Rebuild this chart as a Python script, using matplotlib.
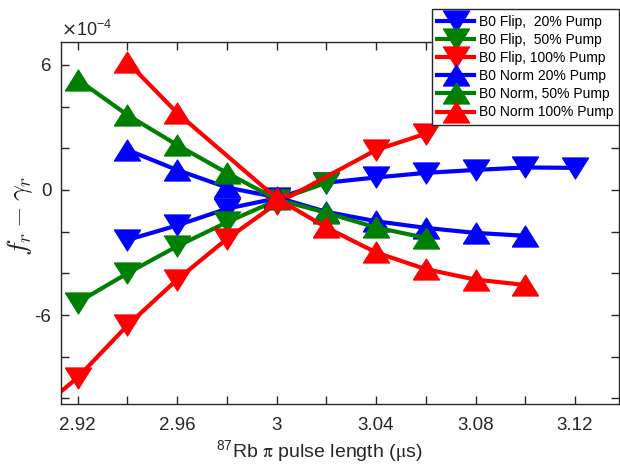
import matplotlib
matplotlib.use("Agg")
import matplotlib.pyplot as plt
from matplotlib.ticker import MultipleLocator, FixedLocator

plt.rcParams['font.family'] = ['Liberation Sans', 'DejaVu Sans']
plt.rcParams['axes.unicode_minus'] = False

# Pulse lengths (us) and frequency offsets (x1e-4)
x_flip20 = [2.94, 2.96, 2.98, 3.00, 3.02, 3.04, 3.06, 3.08, 3.10, 3.12]
flip20 = [-2.4, -1.7, -0.9, -0.4, 0.35, 0.6, 0.82, 0.96, 1.08, 1.06]

x_flip50 = [2.92, 2.94, 2.96, 2.98, 3.00, 3.02]
flip50 = [-5.4, -4.0, -2.7, -1.55, -0.5, 0.35]

x_flip100 = [2.90, 2.92, 2.94, 2.96, 2.98, 3.00, 3.04, 3.06]
flip100 = [-11.0, -9.0, -6.5, -4.3, -2.35, -0.65, 1.92, 2.7]

x_norm20 = [2.94, 2.96, 2.98, 3.00, 3.02, 3.04, 3.06, 3.08, 3.10]
norm20 = [1.92, 0.96, 0.12, -0.35, -1.05, -1.5, -1.82, -2.06, -2.2]

x_norm50 = [2.92, 2.94, 2.96, 2.98, 3.00, 3.02, 3.04, 3.06]
norm50 = [5.3, 3.6, 2.16, 0.82, -0.45, -1.1, -1.8, -2.3]

x_norm100 = [2.94, 2.96, 3.00, 3.02, 3.04, 3.06, 3.08, 3.10]
norm100 = [6.14, 3.7, -0.4, -1.8, -3.0, -3.8, -4.3, -4.56]

labels = ['B0 Flip,  20% Pump', 'B0 Flip,  50% Pump', 'B0 Flip, 100% Pump',
          'B0 Norm 20% Pump', 'B0 Norm, 50% Pump', 'B0 Norm 100% Pump']

x_ticks = [2.92, 2.96, 3.00, 3.04, 3.08, 3.12]
x_ticklabels = ['2.92', '2.96', '3', '3.04', '3.08', '3.12']
y_ticks = [6, 0, -6]
y_ticklabels = ['6', '0', '-6']

blue = (0, 0, 1)
green = (0, 0.5, 0)
red = (1, 0, 0)
dark = (0.15, 0.15, 0.15)

# slightly flattened triangles
tri_up = [(-1, -0.8), (1, -0.8), (0, 0.8), (-1, -0.8)]
tri_down = [(-1, 0.8), (1, 0.8), (0, -0.8), (-1, 0.8)]

fig = plt.figure(figsize=(6.2, 4.66), dpi=100)
ax = fig.add_axes([61 / 620, 62 / 466, 558 / 620, 362 / 466])

series = [
    (x_flip20, flip20, blue, tri_down),
    (x_flip50, flip50, green, tri_down),
    (x_flip100, flip100, red, tri_down),
    (x_norm20, norm20, blue, tri_up),
    (x_norm50, norm50, green, tri_up),
    (x_norm100, norm100, red, tri_up),
]
for (xs, ys, c, m), lab in zip(series, labels):
    ax.plot(xs, ys, color=c, marker=m, markersize=19, linewidth=3,
            markeredgecolor=c, markeredgewidth=0.8, label=lab)

ax.set_xlim(2.9133, 3.1377)
ax.set_ylim(-10.27, 7.10)

ax.xaxis.set_major_locator(FixedLocator(x_ticks))
ax.set_xticklabels(x_ticklabels)
ax.xaxis.set_minor_locator(MultipleLocator(0.02))
ax.yaxis.set_major_locator(FixedLocator(y_ticks))
ax.set_yticklabels(y_ticklabels)
ax.yaxis.set_minor_locator(MultipleLocator(2))

ax.tick_params(which='both', direction='in', top=True, right=True,
               color=dark, width=1.0, labelcolor=dark, labelsize=13.5)
ax.tick_params(which='both', length=5.5)
ax.tick_params(axis='x', pad=9)
ax.tick_params(axis='y', pad=7)
for sp in ax.spines.values():
    sp.set_color(dark)
    sp.set_linewidth(1.0)

ax.set_xlabel(r'$^{\mathregular{87}}$Rb $\mathrm{\pi}$ pulse length ($\mathrm{\mu}$s)',
              fontsize=14, color=dark, math_fontfamily='stix')
ax.xaxis.set_label_coords(0.462, -0.149)
ax.xaxis.label.set_va('baseline')
ax.set_ylabel(r'$f_r - \gamma_r$', fontsize=20, color=dark, math_fontfamily='cm')
ax.yaxis.set_label_coords(-0.047, 0.52)

ax.text(0.0, 1.006, r'$\times\mathregular{10^{-4}}$', transform=ax.transAxes,
        fontsize=13, color=dark, ha='left', va='bottom')

leg = ax.legend(loc='upper right', bbox_to_anchor=(619 / 620, 457 / 466),
                bbox_transform=fig.transFigure, fontsize=10, frameon=True,
                fancybox=False, framealpha=1, edgecolor=dark,
                handlelength=2.65, handletextpad=0.35, labelspacing=0.3,
                borderpad=0.4, borderaxespad=0)
leg.get_frame().set_linewidth(1.0)

fig.savefig('out.png', dpi=100)
